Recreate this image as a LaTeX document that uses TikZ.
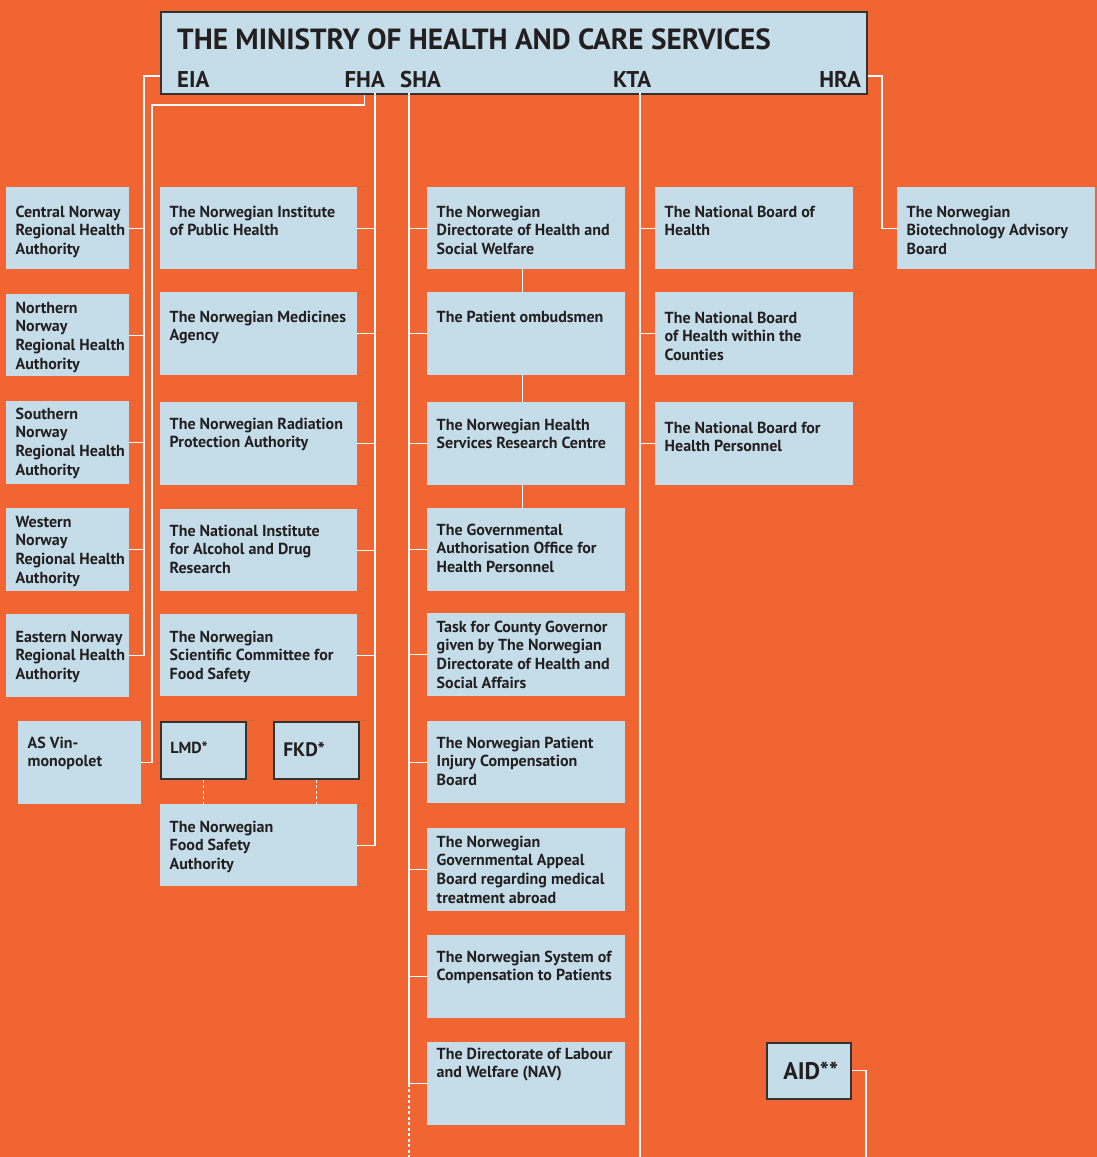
\documentclass[tikz,border=0pt]{standalone}
\usepackage{fontspec}
\setmainfont{PT Sans}
\usetikzlibrary{positioning}

\definecolor{bgorange}{HTML}{F16532}
\definecolor{boxblue}{HTML}{C4DDE8}
\definecolor{ink}{HTML}{231F20}
\definecolor{rim}{HTML}{333333}

\newcommand{\orgfont}{\fontsize{16}{18.6}\selectfont\bfseries}
% width, height, first baseline, lines
\newcommand{\orgbox}[4]{\parbox[t][#2][t]{#1}{\raggedright\leftskip=9.5pt
  \vspace*{\dimexpr#3-0.7\baselineskip\relax}\strut#4}}

\tikzset{
  org/.style={fill=boxblue, text=ink, inner sep=0pt, anchor=north west, font=\orgfont},
  framed/.style={org, draw=rim, line width=1.6pt},
  lbl/.style={text=ink, inner sep=0pt, font=\fontsize{22.8}{24}\selectfont\bfseries},
  link/.style={draw=white, line width=1.2pt},
  dashlink/.style={link, dash pattern=on 3pt off 2.5pt},
}

\begin{document}
\begin{tikzpicture}[x=1pt,y=-1pt]
\useasboundingbox (0,0) rectangle (1097,1157);
\fill[bgorange] (0,0) rectangle (1097,1157);
\coordinate (foot) at (0,1157);

% ministry
\path (160,11) node[framed, minimum width=706pt, minimum height=82pt] (hdr) {};
\path (177,49) node[lbl, anchor=base west, font=\fontsize{29.2}{31}\selectfont\bfseries] (title) {THE MINISTRY OF HEALTH AND CARE SERVICES};
\path (177,87) node[lbl, anchor=base west] (eia) {EIA};
\path (385,87) node[lbl, anchor=base east] (fha) {FHA};
\path (400,87) node[lbl, anchor=base west] (sha) {SHA};
\path (613,87) node[lbl, anchor=base west] (kta) {KTA};
\path (861,87) node[lbl, anchor=base east] (hra) {HRA};

% regional health authorities
\path (6,187) node[org] (r1) {\orgbox{123pt}{82pt}{30pt}{Central Norway\\Regional Health\\Authority}};
\path (6,294) node[org] (r2) {\orgbox{123pt}{82pt}{19pt}{Northern\\Norway\\Regional Health\\Authority}};
\path (6,401) node[org] (r3) {\orgbox{123pt}{83pt}{18pt}{Southern\\Norway\\Regional Health\\Authority}};
\path (6,508) node[org] (r4) {\orgbox{123pt}{83pt}{19pt}{Western\\Norway\\Regional Health\\Authority}};
\path (6,614) node[org] (r5) {\orgbox{123pt}{83pt}{28pt}{Eastern Norway\\Regional Health\\Authority}};
\path (18,721) node[org] (vin) {\orgbox{123pt}{83pt}{27pt}{AS Vin-\\monopolet}};

% public health
\path (160,187) node[org] (f1) {\orgbox{197pt}{82pt}{30pt}{The Norwegian Institute\\of Public Health}};
\path (160,292) node[org] (f2) {\orgbox{197pt}{83pt}{30pt}{The Norwegian Medicines\\Agency}};
\path (160,402) node[org] (f3) {\orgbox{197pt}{83pt}{27pt}{The Norwegian Radiation\\Protection Authority}};
\path (160,509) node[org] (f4) {\orgbox{197pt}{82pt}{27pt}{The National Institute\\for Alcohol and Drug\\Research}};
\path (160,614) node[org] (f5) {\orgbox{197pt}{82pt}{28pt}{The Norwegian\\Scientific Committee for\\Food Safety}};
\path (160,721) node[framed] (lmd) {\orgbox{85pt}{57pt}{32pt}{LMD*}};
\path (273,721) node[framed, font=\fontsize{19.5}{22}\selectfont\bfseries] (fkd) {\orgbox{85pt}{57pt}{35pt}{FKD*}};
\path (160,804) node[org] (fsa) {\orgbox{197pt}{82pt}{28pt}{The Norwegian\\Food Safety\\Authority}};

% health services
\path (427,187) node[org] (s1) {\orgbox{198pt}{82pt}{30pt}{The Norwegian\\Directorate of Health and\\Social Welfare}};
\path (427,292) node[org] (s2) {\orgbox{198pt}{83pt}{30pt}{The Patient ombudsmen}};
\path (427,402) node[org] (s3) {\orgbox{198pt}{83pt}{28pt}{The Norwegian Health\\Services Research Centre}};
\path (427,508) node[org] (s4) {\orgbox{198pt}{83pt}{27pt}{The Governmental\\Authorisation Office for\\Health Personnel}};
\path (427,613) node[org] (s5) {\orgbox{198pt}{83pt}{19pt}{Task for County Governor\\given by The Norwegian\\Directorate of Health and\\Social Affairs}};
\path (427,721) node[org] (s6) {\orgbox{198pt}{82pt}{27pt}{The Norwegian Patient\\Injury Compensation\\Board}};
\path (427,828) node[org] (s7) {\orgbox{198pt}{83pt}{19pt}{The Norwegian\\Governmental Appeal\\Board regarding medical\\treatment abroad}};
\path (427,935) node[org] (s8) {\orgbox{198pt}{83pt}{27pt}{The Norwegian System of\\Compensation to Patients}};
\path (427,1042) node[org] (s9) {\orgbox{198pt}{83pt}{17pt}{The Directorate of Labour\\and Welfare (NAV)}};

% municipal
\path (655,187) node[org] (k1) {\orgbox{198pt}{82pt}{30pt}{The National Board of\\Health}};
\path (655,292) node[org] (k2) {\orgbox{198pt}{83pt}{31pt}{The National Board\\of Health within the\\Counties}};
\path (655,402) node[org] (k3) {\orgbox{198pt}{83pt}{31pt}{The National Board for\\Health Personnel}};

% research
\path (897,187) node[org] (h1) {\orgbox{198pt}{82pt}{30pt}{The Norwegian\\Biotechnology Advisory\\Board}};
\path (766,1042) node[framed, font=\fontsize{24}{26}\selectfont\bfseries] (aid) {\orgbox{84pt}{56pt}{37pt}{\hspace*{7pt}AID**}};

% EIA
\coordinate (eia bus) at (144,76);
\draw[link] (hdr.west |- eia bus) -- (eia bus) -- (eia bus |- r5.east);
\draw[link] (r1.east) -- (r1.east -| eia bus);
\draw[link] (r2.east) -- (r2.east -| eia bus);
\draw[link] (r3.east) -- (r3.east -| eia bus);
\draw[link] (r4.east) -- (r4.east -| eia bus);
\draw[link] (r5.east) -- (r5.east -| eia bus);

% FHA
\coordinate (fha bus) at (152,105);
\draw[link] (fha.south |- hdr.south) |- (fha bus) |- (vin.east);
\coordinate (fha top) at (375,93);
\draw[link] (fha top) |- (fsa.east);
\draw[link] (f1.east) -- (f1.east -| fha top);
\draw[link] (f2.east) -- (f2.east -| fha top);
\draw[link] (f3.east) -- (f3.east -| fha top);
\draw[link] (f4.east) -- (f4.east -| fha top);
\draw[link] (f5.east) -- (f5.east -| fha top);
\draw[dashlink] (lmd.south) -- (lmd.south |- fsa.north);
\draw[dashlink] (fkd.south) -- (fkd.south |- fsa.north);

% SHA
\coordinate (sha top) at (409,93);
\draw[link] (sha top) -- (sha top |- s9.west);
\draw[dashlink] (sha top |- s9.west) -- (sha top |- foot);
\draw[link] (s1.west) -- (s1.west -| sha top);
\draw[link] (s2.west) -- (s2.west -| sha top);
\draw[link] (s3.west) -- (s3.west -| sha top);
\draw[link] (s4.west) -- (s4.west -| sha top);
\draw[link] (s5.west) -- (s5.west -| sha top);
\draw[link] (s6.west) -- (s6.west -| sha top);
\draw[link] (s7.west) -- (s7.west -| sha top);
\draw[link] (s8.west) -- (s8.west -| sha top);
\draw[link] (s9.west) -- (s9.west -| sha top);
\draw[link] ([xshift=-4pt]s1.south) -- ([xshift=-4pt]s2.north);
\draw[link] ([xshift=-4pt]s2.south) -- ([xshift=-4pt]s3.north);
\draw[link] ([xshift=-4pt]s3.south) -- ([xshift=-4pt]s4.north);

% KTA
\coordinate (kta top) at (640,93);
\draw[link] (kta top) -- (kta top |- foot);
\draw[link] (k1.west) -- (k1.west -| kta top);
\draw[link] (k2.west) -- (k2.west -| kta top);
\draw[link] (k3.west) -- (k3.west -| kta top);

% HRA
\coordinate (hra bus) at (882,76);
\draw[link] (hdr.east |- hra bus) -- (hra bus) |- (h1.west);
\coordinate (aid foot) at (866,1157);
\draw[link] (aid.east) -| (aid foot);
\end{tikzpicture}
\end{document}
